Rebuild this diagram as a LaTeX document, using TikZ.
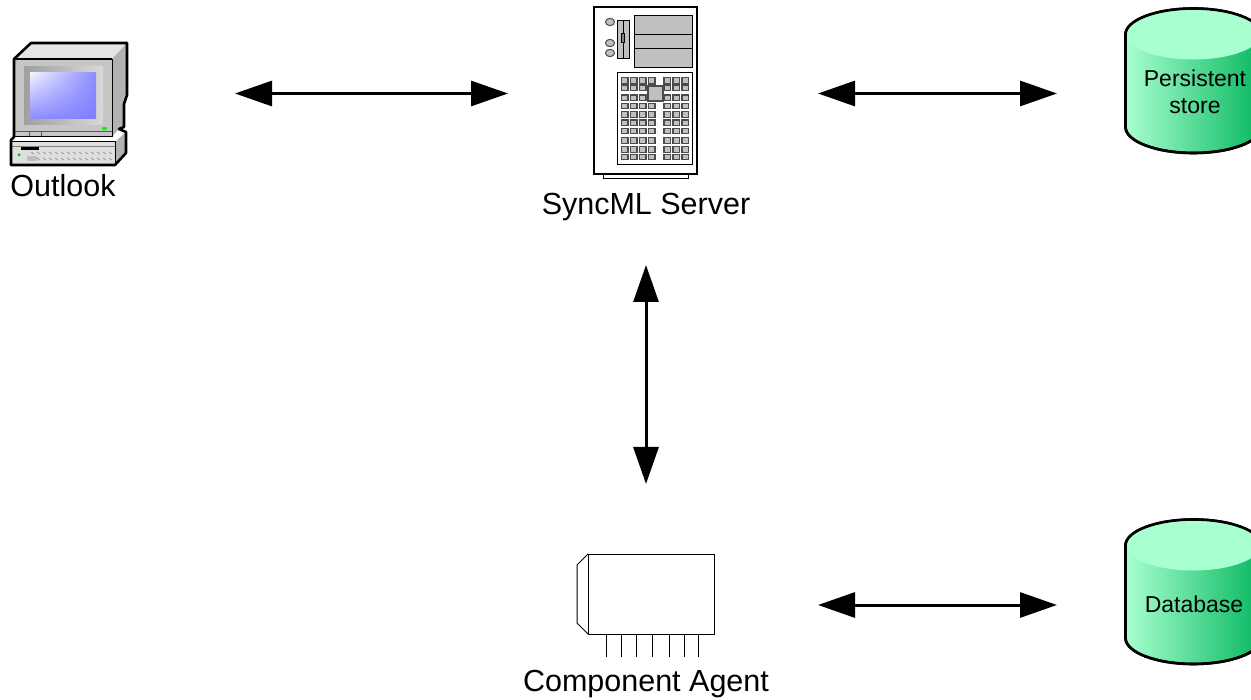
\documentclass[tikz,border=0pt]{standalone}
\usepackage{fontspec}
\setmainfont{Liberation Sans}
\usetikzlibrary{arrows.meta,shadings}
\definecolor{cylLight}{RGB}{168,255,208}
\definecolor{cylDark}{RGB}{8,184,96}
\definecolor{ventGrey}{RGB}{192,192,192}
\tikzset{
  biglabel/.style={font=\fontsize{30.5}{33}\selectfont,inner sep=0pt,anchor=base},
  cyllabel/.style={font=\fontsize{23}{27}\selectfont,inner sep=0pt,align=center},
  link/.style={line width=3pt,{Triangle[length=37pt,width=25pt]}-{Triangle[length=37pt,width=25pt]}},
  thick line/.style={line width=2.6pt,line join=round},
  thin line/.style={line width=1pt}
}
\begin{document}
\begin{tikzpicture}[x=1pt,y=-1pt]
  \clip (0,0) rectangle (1251,700);

  % computer
  \begin{scope}
    \fill[gray!20] (14,59) -- (31,43) -- (127,43) -- (112,59) -- cycle;
    \fill[gray!60] (112,59) -- (127,43) -- (127,95) -- (124,104) -- (124,127) -- (119,129) -- (112,137) -- cycle;
    \fill[gray!45] (14,59) rectangle (112,137);
    \shade[left color=gray!75,right color=gray!30] (24,67) rectangle (103,125);
    \shade[upper left=blue!5,upper right=blue!45,lower left=blue!45,lower right=blue!50] (30,73) rectangle (96,119);
    \fill[green] (102,127) rectangle (107,130);
    \draw[thin line,gray!70!black] (14,132) -- (112,132);
    \draw[thin line,gray!70!black] (29,132) -- (29,137);
    \draw[thin line,gray!70!black] (41,132) -- (41,137);
    \draw[thin line] (112,59) -- (112,137) -- (14,137);
    \fill[gray!25] (11,142) rectangle (115,165);
    \fill[gray!60] (115,142) -- (126,132) -- (126,153) -- (115,165) -- cycle;
    \fill (21,147) rectangle (39,150);
    \draw[thin line] (11,142) -- (115,142) -- (115,165);
    \draw[thin line,gray] (11,147) -- (115,147);
    \foreach \x in {31,37,...,109} {
      \draw[thin line,gray!70] (\x,152) -- (\x+3,154);
      \draw[thin line,gray!70] (\x,158) -- (\x+3,160);
    }
    \fill[green!70!black] (19,155) circle (1.5);
    \fill[gray!50] (27,156) rectangle (37,161);
    \draw[thick line] (14,137) -- (14,59) -- (31,43) -- (127,43) -- (127,95) -- (124,104) -- (124,127) -- (119,129) -- (126,132) -- (126,153) -- (115,165) -- (11,165) -- (11,140) -- cycle;
    \draw[thick line] (14,59) -- (112,59);
  \end{scope}
  \node[biglabel] (outlook) at (63,197) {Outlook};

  % server
  \begin{scope}
    \draw[thin line] (603,174) -- (603,179) -- (688,179) -- (688,174);
    \draw[line width=2.6pt,fill=white] (594,7) rectangle (697,174);
    \foreach \y in {22,43,53}
      \draw[thin line,draw=gray!60!black,fill=ventGrey] (610,\y) ellipse (4.5 and 3.7);
    \draw[thin line,fill=ventGrey] (617,21) rectangle (629,59);
    \draw[thin line] (623,21) -- (623,59);
    \draw[thin line,fill=gray] (621,34) rectangle (624,43);
    \draw[thin line,fill=ventGrey] (634,16) rectangle (692,68);
    \draw[thin line] (634,35) -- (692,35);
    \draw[thin line] (634,49) -- (692,49);
    \draw[thin line] (617,165) -- (617,73) -- (692,73) -- (692,165) -- cycle;
    \foreach \y in {77.7,85,95,103.3,111.7,120,128.3,137.7,146.7,154.3} {
      \foreach \x in {621.5,630.5,639.5,648.5,664,673,682}
        \draw[line width=1.3pt,draw=gray!60!black,fill=ventGrey] (\x,\y) rectangle (\x+6.5,\y+5.5);
    }
    \draw[line width=1.5pt,draw=gray!60!black,fill=ventGrey] (648,86) rectangle (663,101);
  \end{scope}
  \node[biglabel] (server) at (646,215) {SyncML Server};

  % component
  \begin{scope}
    \draw[thin line] (588,554) -- (577,565) -- (577,623) -- (588,634);
    \draw[thin line] (588,554) rectangle (714,634);
    \foreach \x in {606,621,636,652,669,684,698}
      \draw[thin line] (\x,634) -- (\x,657);
  \end{scope}
  \node[biglabel] (agent) at (646,691) {Component Agent};

  % stores
  \foreach \dy in {0,511} {
    \begin{scope}[yshift=-\dy pt]
      \draw[thick line,left color=cylLight,right color=cylDark] (1125.5,34.5) -- (1125.5,127) arc[start angle=180,end angle=360,x radius=68,y radius=-26] -- (1261.5,34.5) arc[start angle=0,end angle=180,x radius=68,y radius=-26] -- cycle;
      \fill[cylLight] (1193.5,34.5) ellipse (66.7 and 25);
      \draw[thick line] (1125.5,34.5) -- (1125.5,127) arc[start angle=180,end angle=360,x radius=68,y radius=-26] -- (1261.5,34.5) arc[start angle=0,end angle=180,x radius=68,y radius=-26] -- cycle;
    \end{scope}
  }
  \node[cyllabel] (persistent) at (1195,92) {Persistent\\store};
  \node[cyllabel] (database) at (1194,604) {Database};

  % link ends
  \coordinate (outlookend) at (235,93.5);
  \coordinate (serverwest) at (508,93.5);
  \coordinate (servereast) at (818,93.5);
  \coordinate (persistentend) at (1057,93.5);
  \coordinate (serversouth) at (646,265);
  \coordinate (agentnorth) at (646,484);
  \coordinate (agenteast) at (818,605);
  \coordinate (databaseend) at (1057,605);

  \draw[link] (outlookend) -- (serverwest);
  \draw[link] (servereast) -- (persistentend);
  \draw[link] (serversouth) -- (agentnorth);
  \draw[link] (agenteast) -- (databaseend);
\end{tikzpicture}
\end{document}
